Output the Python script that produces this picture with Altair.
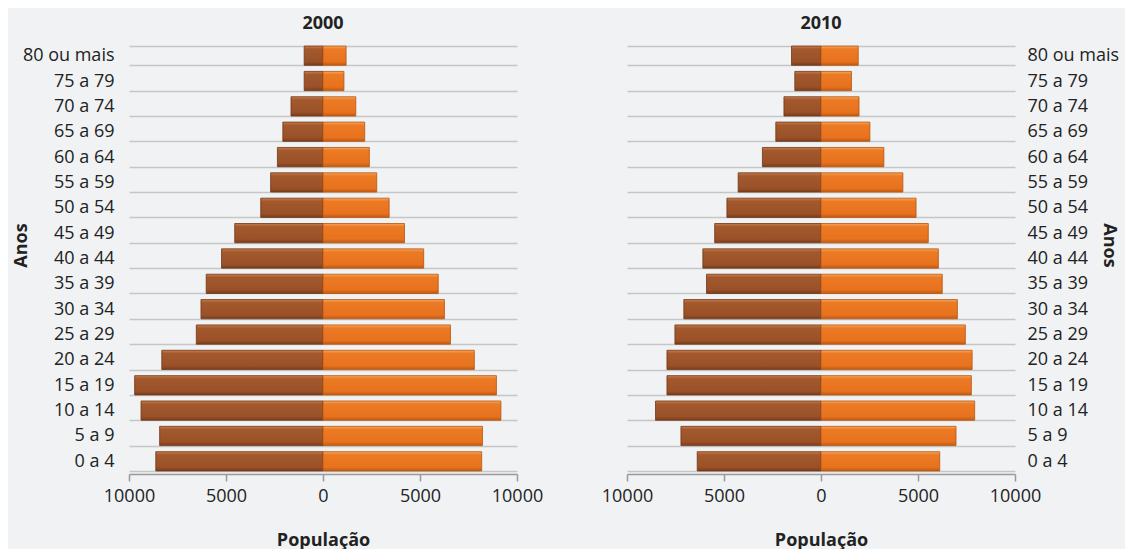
import altair as alt
import pandas as pd

ages = ["0 a 4", "5 a 9", "10 a 14", "15 a 19", "20 a 24", "25 a 29", "30 a 34",
        "35 a 39", "40 a 44", "45 a 49", "50 a 54", "55 a 59", "60 a 64",
        "65 a 69", "70 a 74", "75 a 79", "80 ou mais"]

male_2000 = [8620, 8420, 9380, 9710, 8310, 6530, 6290, 6020, 5230, 4550, 3210,
             2700, 2350, 2070, 1650, 970, 970]
female_2000 = [8180, 8220, 9170, 8940, 7800, 6570, 6260, 5940, 5190, 4200, 3410,
               2770, 2390, 2150, 1690, 1080, 1190]
male_2010 = [6380, 7220, 8530, 7940, 7940, 7530, 7070, 5900, 6090, 5480, 4850,
             4270, 3020, 2330, 1910, 1350, 1520]
female_2010 = [6120, 6960, 7920, 7750, 7790, 7440, 7030, 6250, 6050, 5530, 4900,
               4220, 3240, 2520, 1960, 1570, 1920]

tick_values = [-10000, -5000, 0, 5000, 10000]
order = list(reversed(ages))

FONT = "Open Sans"
W, H = 388, 431
LABEL_SIZE = 18
TITLE_SIZE = 18

male_grad = alt.Gradient(gradient="linear", x1=0, x2=0, y1=0, y2=1, stops=[
    alt.GradientStop(color="#c97e4c", offset=0),
    alt.GradientStop(color="#a3592d", offset=0.16),
    alt.GradientStop(color="#9a5128", offset=0.8),
    alt.GradientStop(color="#7a3d1c", offset=1)])
female_grad = alt.Gradient(gradient="linear", x1=0, x2=0, y1=0, y2=1, stops=[
    alt.GradientStop(color="#f8a85e", offset=0),
    alt.GradientStop(color="#ec7a24", offset=0.16),
    alt.GradientStop(color="#e8721e", offset=0.8),
    alt.GradientStop(color="#c25a12", offset=1)])


def panel(year, male, female, orient):
    df = pd.DataFrame({"Idade": ages,
                       "Homens": [-v for v in male],
                       "Mulheres": female})
    common = dict(title="Anos", ticks=False,
                  labelFontSize=LABEL_SIZE, labelColor="#222", labelFont=FONT,
                  titleFont=FONT, titleFontSize=TITLE_SIZE, titleFontWeight="bold",
                  titleColor="#222", titleY=202,
                  titleAlign="center", titleBaseline="middle",
                  domain=False, grid=True, gridColor="#c6c6c6", gridWidth=1.5,
                  tickBand="extent")
    if orient == "left":
        yaxis = alt.Axis(orient="left", labelPadding=15, titleX=-108,
                         titleAngle=-90, **common)
    else:
        yaxis = alt.Axis(orient="right", labelPadding=12, titleX=93,
                         titleAngle=90, labelAlign="left", **common)
    xaxis = alt.Axis(values=tick_values, labelExpr="format(abs(datum.value), 'd')",
                     title="População", grid=False, labelFlush=False,
                     labelFontSize=LABEL_SIZE, labelColor="#222", labelFont=FONT,
                     titleFont=FONT, titleFontSize=TITLE_SIZE, titleFontWeight="bold",
                     titleColor="#222", titlePadding=26, tickSize=7,
                     tickColor="#999", domainColor="#999", domainWidth=1.5,
                     tickWidth=1.5, labelPadding=6)
    xscale = alt.Scale(domain=[-10000, 10000], nice=False)
    yscale = alt.Scale(paddingInner=0.24, paddingOuter=0.12)
    base = alt.Chart(df)
    m = base.mark_bar(color=male_grad, stroke="#6e3616", strokeWidth=0.8).encode(
        x=alt.X("Homens:Q", scale=xscale, axis=xaxis),
        y=alt.Y("Idade:N", sort=order, scale=yscale, axis=yaxis),
    )
    f = base.mark_bar(color=female_grad, stroke="#b5550f", strokeWidth=0.8).encode(
        x=alt.X("Mulheres:Q", scale=xscale, axis=xaxis),
        y=alt.Y("Idade:N", sort=order, scale=yscale, axis=yaxis),
    )
    return alt.layer(m, f).properties(
        width=W, height=H,
        title=alt.TitleParams(str(year), font=FONT, fontSize=TITLE_SIZE,
                              fontWeight="bold", color="#222", offset=1),
    )


chart = alt.hconcat(
    panel(2000, male_2000, female_2000, "left"),
    panel(2010, male_2010, female_2010, "right"),
    spacing=110, bounds="flush",
).properties(
    background="#f0f2f4",
    padding={"left": 4, "top": 7, "right": 6, "bottom": 0},
).configure_view(stroke=None)

chart.save("out.html", embed_options={"renderer": "svg", "actions": False})
